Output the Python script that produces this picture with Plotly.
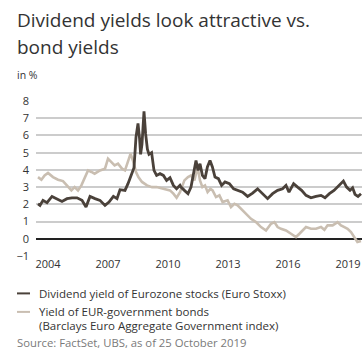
import plotly.graph_objects as go

# Dividend yield of Euro Stoxx (decimal year, %)
div_years = [2003.5, 2003.6, 2003.75, 2003.95, 2004.2, 2004.45, 2004.7, 2004.95, 2005.2, 2005.45,
             2005.7, 2005.9, 2006.1, 2006.35, 2006.6, 2006.85, 2007.05, 2007.27, 2007.45, 2007.6,
             2007.85, 2008.0, 2008.15, 2008.3, 2008.4, 2008.5, 2008.58, 2008.63, 2008.7, 2008.8,
             2008.88, 2008.97, 2009.05, 2009.18, 2009.3, 2009.43, 2009.6, 2009.77, 2009.93, 2010.1,
             2010.27, 2010.43, 2010.6, 2010.65, 2010.82, 2011.0, 2011.15, 2011.28, 2011.4, 2011.5,
             2011.6, 2011.72, 2011.85, 2011.97, 2012.1, 2012.22, 2012.35, 2012.52, 2012.68, 2012.85,
             2013.07, 2013.28, 2013.48, 2013.73, 2013.98, 2014.23, 2014.48, 2014.73, 2014.98, 2015.23,
             2015.48, 2015.73, 2015.9, 2016.05, 2016.28, 2016.48, 2016.68, 2016.9, 2017.15, 2017.4,
             2017.65, 2017.85, 2018.07, 2018.3, 2018.55, 2018.77, 2018.93, 2019.1, 2019.23, 2019.35,
             2019.5, 2019.65]
div_yield = [2.03, 1.94, 2.23, 2.1, 2.46, 2.33, 2.17, 2.33, 2.38, 2.38,
             2.23, 1.84, 2.46, 2.33, 2.23, 1.94, 2.13, 2.46, 2.33, 2.85,
             2.81, 3.2, 3.68, 4.13, 5.9, 6.7, 5.8, 4.9, 5.5, 7.4,
             6.1, 5.2, 4.9, 5.0, 3.97, 3.68, 3.78, 3.68, 3.39, 3.55,
             3.1, 2.9, 3.1, 3.0, 2.81, 2.62, 3.0, 3.78, 4.55, 3.97,
             4.36, 3.68, 3.49, 4.17, 4.55, 4.17, 3.58, 3.49, 3.1, 3.3,
             3.2, 2.9, 2.81, 2.71, 2.46, 2.65, 2.9, 2.62, 2.33, 2.62,
             2.81, 2.9, 3.1, 2.71, 3.2, 3.0, 2.81, 2.52, 2.38, 2.46,
             2.52, 2.38, 2.62, 2.81, 3.1, 3.35, 3.0, 2.81, 2.96, 2.58,
             2.46, 2.62]

# Yield of EUR government bonds (decimal year, %)
bond_years = [2003.5, 2003.67, 2003.83, 2004.0, 2004.25, 2004.5, 2004.75, 2005.0, 2005.17, 2005.33,
              2005.5, 2005.67, 2005.85, 2006.0, 2006.17, 2006.33, 2006.6, 2006.85, 2007.0, 2007.17,
              2007.33, 2007.5, 2007.7, 2007.85, 2008.0, 2008.13, 2008.27, 2008.4, 2008.52, 2008.7,
              2008.95, 2009.2, 2009.43, 2009.77, 2010.1, 2010.27, 2010.43, 2010.6, 2010.82, 2011.0,
              2011.15, 2011.32, 2011.48, 2011.6, 2011.72, 2011.85, 2011.98, 2012.12, 2012.23, 2012.4,
              2012.57, 2012.73, 2012.98, 2013.15, 2013.32, 2013.48, 2013.65, 2013.9, 2014.15, 2014.4,
              2014.65, 2014.9, 2015.15, 2015.32, 2015.48, 2015.65, 2015.9, 2016.15, 2016.4, 2016.57,
              2016.73, 2016.9, 2017.15, 2017.4, 2017.65, 2017.82, 2017.98, 2018.23, 2018.48, 2018.65,
              2018.82, 2018.98, 2019.15, 2019.3, 2019.47, 2019.65]
bond_yield = [3.58, 3.43, 3.68, 3.82, 3.58, 3.43, 3.35, 3.0, 2.81, 3.0,
              2.81, 3.1, 3.58, 3.97, 3.88, 3.78, 3.97, 4.07, 4.65, 4.46,
              4.26, 4.36, 4.07, 3.97, 4.55, 4.94, 4.46, 3.88, 3.58, 3.3,
              3.1, 3.0, 3.0, 2.9, 2.81, 2.62, 2.38, 2.71, 3.39, 3.58,
              3.68, 3.39, 4.17, 3.39, 3.0, 3.1, 2.71, 2.9, 2.81, 2.42,
              2.52, 2.13, 2.23, 1.84, 2.03, 1.94, 1.74, 1.45, 1.16, 0.97,
              0.68, 0.48, 0.87, 0.97, 0.68, 0.58, 0.48, 0.29, 0.1, 0.29,
              0.48, 0.68, 0.58, 0.58, 0.68, 0.52, 0.78, 0.78, 0.97, 0.78,
              0.68, 0.58, 0.39, 0.1, -0.19, -0.13]

year_ticks = [2004, 2007, 2010, 2013, 2016, 2019]
value_ticks = [-1, 0, 1, 2, 3, 4, 5, 6, 7, 8]

title_lines = ["Dividend yields look attractive vs.", "bond yields"]
div_name = ["Dividend yield of Eurozone stocks (Euro Stoxx)"]
bond_name = ["Yield of EUR-government bonds", "(Barclays Euro Aggregate Government index)"]
source_text = "Source: FactSet, UBS, as of 25 October 2019"

DARK = "#4a413a"
LIGHT = "#c9beb1"
TEXT = "#333333"
FONT = "Open Sans"

# plot area in pixels: x 36..362, y 100.6 (value 8) .. 255.6 (value -1)
L, W = 36, 326
TOP, BOTTOM = 100.6, 255.6
H = BOTTOM - TOP


def px(x):
    return (x - L) / W


def py(y):
    return (BOTTOM - y) / H


fig = go.Figure()
fig.add_trace(go.Scatter(x=bond_years, y=bond_yield, mode="lines", name=" ".join(bond_name),
                         line=dict(color=LIGHT, width=2.6), showlegend=False))
fig.add_trace(go.Scatter(x=div_years, y=div_yield, mode="lines", name=div_name[0],
                         line=dict(color=DARK, width=2.8), showlegend=False))

fig.update_layout(
    width=362, height=356,
    margin=dict(l=L, r=0, t=TOP, b=356 - BOTTOM),
    paper_bgcolor="white", plot_bgcolor="white",
    font=dict(family=FONT, size=11, color=TEXT),
    xaxis=dict(range=[2003.4, 2019.7], tickvals=year_ticks, ticktext=[str(y) for y in year_ticks],
               showgrid=False, zeroline=False, showline=False, ticks="",
               tickfont=dict(size=11, color=TEXT)),
    yaxis=dict(range=[-1, 8], tickvals=value_ticks,
               ticktext=["\u22121"] + [str(v) for v in value_ticks[1:]],
               showgrid=True, gridcolor="#cccccc", gridwidth=1.5,
               zeroline=True, zerolinecolor="#222222", zerolinewidth=1.6,
               showline=False, ticks="", ticklabelstandoff=6,
               tickfont=dict(size=11, color=TEXT)),
)


def text_at(text, x, y, size, color=TEXT):
    fig.add_annotation(text=text, xref="paper", yref="paper", x=px(x), y=py(y),
                       xanchor="left", yanchor="middle", showarrow=False,
                       font=dict(size=size, color=color, family=FONT))


# Title and unit label
text_at(title_lines[0], 15, 19.5, 19)
text_at(title_lines[1], 15, 47, 19)
text_at("in %", 15, 75, 10.5)

# Legend
legend_rows = [(div_name, DARK, [293]), (bond_name, LIGHT, [311.5, 325])]
for lines, color, ys in legend_rows:
    fig.add_shape(type="line", xref="paper", yref="paper",
                  x0=px(17), x1=px(30), y0=py(ys[0]), y1=py(ys[0]),
                  line=dict(color=color, width=2))
    for line, ypos in zip(lines, ys):
        text_at(line, 37, ypos, 11.5)

text_at(source_text, 15, 342, 11.3, "#7a7a7a")

fig.write_html("out.html")
